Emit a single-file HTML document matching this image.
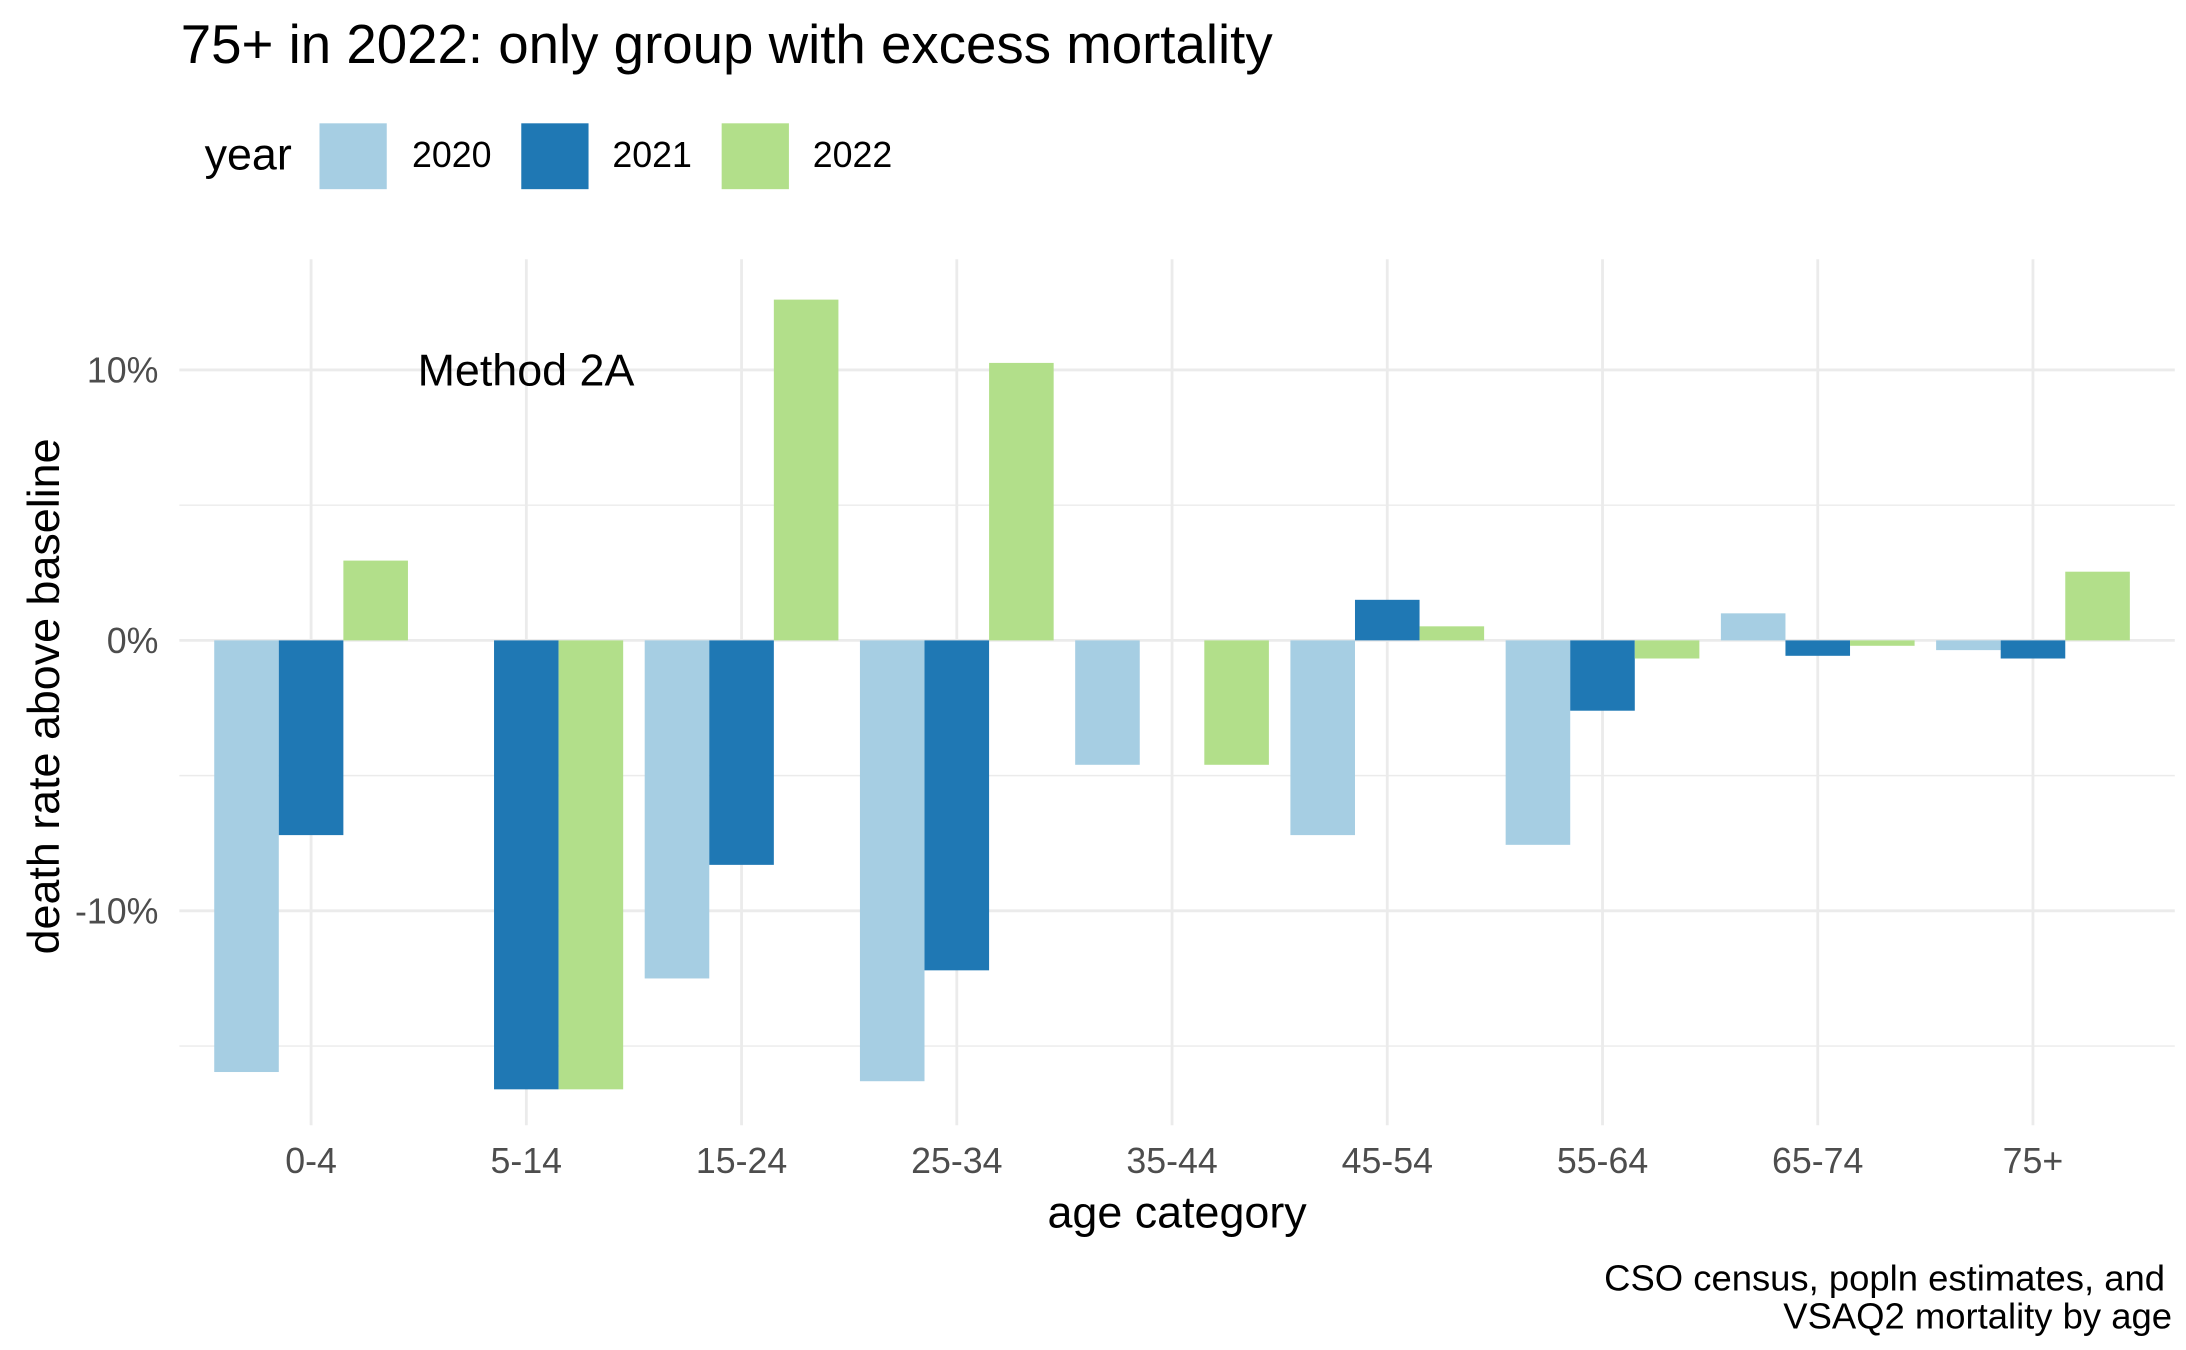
<!DOCTYPE html>
<html><head><meta charset="utf-8"><style>
html,body{margin:0;padding:0;background:#fff;}
svg{display:block;font-family:"Liberation Sans",Arial,sans-serif;}
</style></head><body>
<svg id="chart" width="2186" height="1350" viewBox="0 0 1560 963.4" preserveAspectRatio="none" xmlns="http://www.w3.org/2000/svg">
<rect width="1560" height="963.4" fill="#fff"/>
<text x="129" y="45" font-size="39" fill="#000">75+ in 2022: only group with excess mortality</text>
<g>
<text x="146" y="121" font-size="32">year</text>
<rect x="228" y="88" width="48" height="47" fill="#a6cee3"/>
<text x="294" y="119" font-size="25.5">2020</text>
<rect x="372" y="88" width="48" height="47" fill="#1f78b4"/>
<text x="437" y="119" font-size="25.5">2021</text>
<rect x="515" y="88" width="48" height="47" fill="#b2df8a"/>
<text x="580" y="119" font-size="25.5">2022</text>
</g>
<g id="grid"></g>
<g id="bars"></g>
<g id="axes"></g>
<text x="298" y="275" font-size="32">Method 2A</text>
<text x="840" y="876" font-size="32" text-anchor="middle">age category</text>
<text transform="translate(42,497) rotate(-90)" font-size="32" text-anchor="middle">death rate above baseline</text>
<text x="1545" y="921" font-size="26" text-anchor="end">CSO census, popln estimates, and</text>
<text x="1550" y="948" font-size="26" text-anchor="end">VSAQ2 mortality by age</text>
</svg>
<script>
const categories = ["0-4","5-14","15-24","25-34","35-44","45-54","55-64","65-74","75+"];
const years = ["2020","2021","2022"];
const values2020 = [-15.96, null, -12.5, -16.3, -4.6, -7.2, -7.56, 1.0, -0.36];
const values2021 = [-7.2, -16.6, -8.3, -12.2, null, 1.5, -2.6, -0.57, -0.67];
const values2022 = [2.95, -16.6, 12.6, 10.26, -4.6, 0.52, -0.67, -0.2, 2.54];
const yTicks = [-10, 0, 10];
const yTickLabels = ["-10%", "0%", "10%"];
const yMinor = [-15, -5, 5];

const NS = "http://www.w3.org/2000/svg";
const colors = ["#a6cee3","#1f78b4","#b2df8a"];
const series = [values2020, values2021, values2022];
const panelL = 128, panelR = 1552, panelT = 185, panelB = 803;
const step = 153.6, x0 = 222;
function xScale(i){ return x0 + i*step; }
function yScale(v){ return 457 - v*19.3; }
const barW = step*0.9/3;

function mk(tag, attrs, parent){
  const el = document.createElementNS(NS, tag);
  for (const k in attrs) el.setAttribute(k, attrs[k]);
  parent.appendChild(el);
  return el;
}
const grid = document.getElementById("grid");
const bars = document.getElementById("bars");
const axes = document.getElementById("axes");

yMinor.forEach(v => {
  const l = mk("line", {x1:panelL, x2:panelR, y1:yScale(v), y2:yScale(v), stroke:"#ebebeb", "stroke-width":1}, grid);
  
  
});
yTicks.forEach((v,i) => {
  const l = mk("line", {x1:panelL, x2:panelR, y1:yScale(v), y2:yScale(v), stroke:"#ebebeb", "stroke-width":2}, grid);
  
  
  const t = mk("text", {x:113, y:yScale(v)+9, "font-size":25.5, fill:"#4d4d4d", "text-anchor":"end"}, axes);
  t.textContent = yTickLabels[i];
  
  
});
categories.forEach((c,i) => {
  const l = mk("line", {x1:xScale(i), x2:xScale(i), y1:panelT, y2:panelB, stroke:"#ebebeb", "stroke-width":2}, grid);
  
  
  const t = mk("text", {x:xScale(i), y:837, "font-size":25.5, fill:"#4d4d4d", "text-anchor":"middle"}, axes);
  t.textContent = c;
  
  
  series.forEach((s,j) => {
    const v = s[i];
    if (v === null || v === undefined) return;
    const y0 = yScale(0), y1 = yScale(v);
    const r = mk("rect", {x:xScale(i) + (j-1.5)*barW, y:Math.min(y0,y1), width:barW, height:Math.abs(y1-y0), fill:colors[j]}, bars);
    
    
  });
});
</script>
</body></html>
